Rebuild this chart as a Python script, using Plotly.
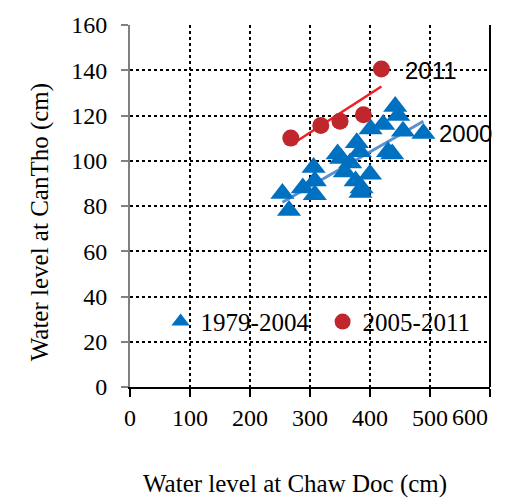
import numpy as np
import plotly.graph_objects as go

# 1979-2004 (blue triangles)
blue_x = [254, 265, 288, 306, 308, 308, 346, 352, 358, 367, 378, 383, 376, 384, 386,
          400, 401, 422, 442, 447, 455, 430, 437, 489]
blue_y = [85.5, 78, 88, 97, 91, 85, 103, 101, 95, 99, 108, 104, 91, 86, 88,
          94, 114, 116, 124, 120, 113, 104, 103, 112]
# 2005-2011 (red circles)
red_x = [268, 318, 350, 389, 419]
red_y = [110, 115.6, 117.5, 120.3, 140.6]

x_ticks = [0, 100, 200, 300, 400, 500, 600]
x_tick_labels = ["0", "100", "200", "300", "400", "500", ""]  # "600" drawn below, nudged left
y_ticks = [0, 20, 40, 60, 80, 100, 120, 140, 160]

BLUE = "#0070C0"
RED = "#C0272D"
SERIF = "Liberation Serif, Times New Roman, serif"
SANS = "Liberation Sans, Arial, sans-serif"

fig = go.Figure()

# trend lines (least squares through each series)
for xs, ys, col, w in [(blue_x, blue_y, "#5B8FD0", 3), (red_x, red_y, "#F01E23", 2.5)]:
    k, b = np.polyfit(xs, ys, 1)
    lx = np.array([min(xs), max(xs)])
    fig.add_trace(go.Scatter(x=lx, y=k * lx + b, mode="lines",
                             line=dict(color=col, width=w),
                             showlegend=False, hoverinfo="skip"))

fig.add_trace(go.Scatter(x=blue_x, y=blue_y, mode="markers", name="1979-2004",
                         marker=dict(symbol="triangle-up", size=21, color=BLUE)))
fig.add_trace(go.Scatter(x=red_x, y=red_y, mode="markers", name="2005-2011",
                         marker=dict(symbol="circle", size=17, color=RED)))

fig.add_annotation(x=455, y=140, text="2011", showarrow=False, xanchor="left",
                   yanchor="middle", font=dict(family=SANS, size=24, color="black"))
fig.add_annotation(x=511, y=112, text="2000", showarrow=False, xanchor="left",
                   yanchor="middle", font=dict(family=SANS, size=24, color="black"))

# last x tick label, kept inside the picture as in the reference
fig.add_annotation(x=x_ticks[-1], y=-0.084, xref="x", yref="paper", text=str(x_ticks[-1]),
                   showarrow=False, xanchor="right", yanchor="middle",
                   font=dict(family=SERIF, size=24, color="black"))

fig.add_annotation(x=0.458, y=-0.2686, xref="paper", yref="paper",
                   text="Water level at Chaw Doc (cm)", showarrow=False,
                   xanchor="center", yanchor="middle",
                   font=dict(family=SERIF, size=25, color="black"))
fig.add_annotation(x=-0.25, y=0.455, xref="paper", yref="paper",
                   text="Water level at CanTho (cm)", showarrow=False, textangle=-90,
                   xanchor="center", yanchor="middle",
                   font=dict(family=SERIF, size=25, color="black"))

# right border
fig.add_shape(type="line", xref="paper", yref="paper", x0=1, x1=1, y0=0, y1=1,
              line=dict(color="black", width=2))

fig.update_layout(
    width=502, height=492,
    margin=dict(l=122, r=20, t=16.5, b=112.5, autoexpand=False),
    plot_bgcolor="white", paper_bgcolor="white",
    font=dict(family=SERIF, size=24, color="black"),
    legend=dict(orientation="h", x=0.085, y=0.18, xanchor="left", yanchor="middle",
                bgcolor="rgba(0,0,0,0)", font=dict(family=SERIF, size=25),
                itemwidth=30, entrywidth=117, tracegroupgap=0),
    xaxis=dict(range=[0, 600], tickvals=x_ticks, ticktext=x_tick_labels,
               showgrid=True, gridcolor="black",
               griddash="dot", gridwidth=1.5, showline=True, linecolor="black",
               linewidth=2, ticks="outside", ticklen=8, tickcolor="black",
               tickwidth=2, zeroline=False, automargin=False),
    yaxis=dict(range=[0, 160], tickvals=y_ticks, showgrid=True, gridcolor="black",
               griddash="dot", gridwidth=1.5, showline=True, linecolor="#808080",
               linewidth=2, ticks="outside", ticklen=7, tickcolor="#808080",
               tickwidth=2, zeroline=False, ticklabelstandoff=9, automargin=False),
)

fig.write_html("out.html")
